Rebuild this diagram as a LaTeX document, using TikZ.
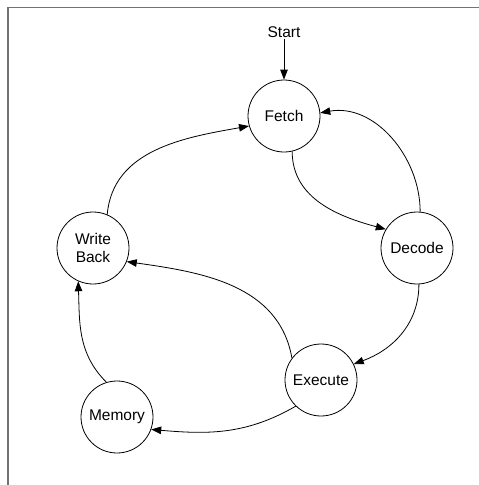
\documentclass[tikz,border=0pt]{standalone}
\usepackage{fontspec}
\setmainfont{Liberation Sans}
\usetikzlibrary{arrows.meta}
\begin{document}
\begin{tikzpicture}[x=1pt,y=1pt,
  state/.style={circle,draw,line width=0.8pt,minimum size=72pt,inner sep=0pt,align=center,
    font=\fontsize{15.5}{18.6}\selectfont},
  lbl/.style={font=\fontsize{15.5}{18.6}\selectfont,inner sep=1pt},
  edge/.style={line width=0.8pt,-{Triangle[length=10pt,width=7.5pt]}}]
\useasboundingbox (0,0) rectangle (479,-485);
\draw[line width=1.5pt,color=black!55] (8,-485) -- (8,-7.5) -- (479,-7.5);
\node[state] (fetch) at (284,-116) {Fetch};
\node[state] (wb) at (93,-248) {Write\\Back};
\node[state] (decode) at (417,-248) {Decode};
\node[state] (exec) at (321,-380) {Execute};
\node[state] (mem) at (117,-417) {Memory};
\node[lbl] (start) at (284,-32) {Start};
\draw[edge] (start) -- (fetch);
\draw[edge] (fetch.-77) to[out=-90,in=165] (decode.149);
\draw[edge] (decode.85) to[out=90,in=10] (fetch.5);
\draw[edge] (wb.67) to[out=85,in=190] (fetch.196);
\draw[edge] (decode.-87) to[out=-90,in=20] (exec.26);
\draw[edge] (exec.143) to[out=100,in=-8] (wb.-22);
\draw[edge] (exec.-134) to[out=-150,in=-5] (mem.-20);
\draw[edge] (mem.107) to[out=135,in=-88] (wb.-114);
\end{tikzpicture}
\end{document}
